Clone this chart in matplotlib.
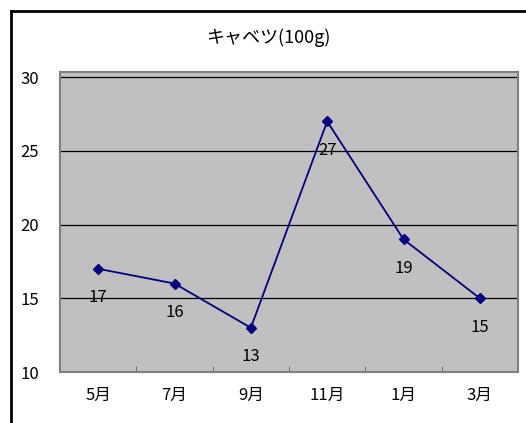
import numpy as np
import matplotlib.pyplot as plt
from matplotlib.lines import Line2D

plt.rcParams['font.family'] = ['Noto Sans CJK JP', 'DejaVu Sans']

# data
months = ['5月', '7月', '9月', '11月', '1月', '3月']
price = [17, 16, 13, 27, 19, 15]
title = 'キャベツ(100g)'

# style
bg_color = '#c0c0c0'
line_color = '#000080'
fsize = 12

fig = plt.figure(figsize=(5.26, 4.23), dpi=100)
W, H = 526, 423
# plot area in pixels: left 60, right 518, top 72, bottom 372
ax = fig.add_axes([60/W, 1-372/H, 458/W, 300/H])
ax.set_facecolor(bg_color)

x = np.arange(len(months))
ax.plot(x, price, color=line_color, lw=1.3, marker='D', ms=5.5,
        mfc=line_color, mec=line_color, zorder=3)
for xi, yi in zip(x, price):
    ax.annotate(str(yi), (xi, yi), xytext=(0, -21), textcoords='offset points',
                ha='center', va='center', fontsize=fsize, zorder=4)

ax.set_xlim(-0.5, len(months)-0.5)
ax.set_ylim(10, 30.35)
ax.set_yticks([10, 15, 20, 25, 30])
for yv in [15, 20, 25, 30]:
    ax.axhline(yv, color='black', lw=0.9, zorder=1)
ax.set_xticks(x)
ax.set_xticklabels(months, fontsize=fsize)
ax.set_xticks(np.arange(len(months)-1)+0.5, minor=True)
ax.tick_params(axis='x', which='major', length=0, pad=11)
ax.tick_params(axis='x', which='minor', direction='in', length=4, color='#606060')
ax.tick_params(axis='y', length=0, pad=22, labelsize=fsize)
for lab in ax.get_yticklabels():
    lab.set_horizontalalignment('center')
for s in ax.spines.values():
    s.set_color('#808080')
    s.set_linewidth(1.5)

fig.text(268/W, 1-38/H, title, ha='center', va='center', fontsize=13)

# outer chart frame
fig.add_artist(Line2D([11/W, 11/W], [0, 1-11/H], color='black', lw=2, transform=fig.transFigure))
fig.add_artist(Line2D([11/W, 1], [1-11/H, 1-11/H], color='black', lw=2, transform=fig.transFigure))

plt.savefig('out.png', dpi=100)
